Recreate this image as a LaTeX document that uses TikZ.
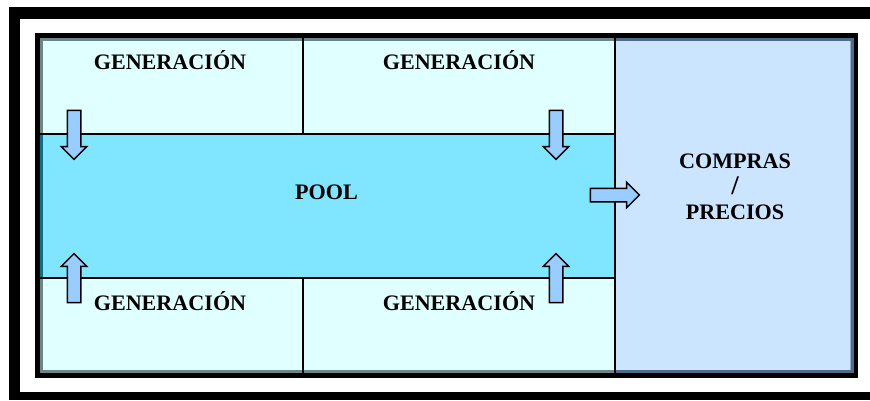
\documentclass[tikz,border=0pt]{standalone}
\usepackage{fontspec}
\setmainfont{Liberation Serif}
\usetikzlibrary{shapes.arrows}
\definecolor{cellc}{HTML}{E0FFFF}
\definecolor{poolc}{HTML}{80E5FF}
\definecolor{buyc}{HTML}{CCE5FF}
\definecolor{arrc}{HTML}{99CCFF}
\definecolor{edgecell}{HTML}{6B8686}
\definecolor{edgepool}{HTML}{0A7088}
\definecolor{edgebuy}{HTML}{4F6B8A}
\definecolor{edgelight}{HTML}{8FABC8}
\tikzset{
  x=1bp,y=-1bp,
  cellbox/.style={anchor=north west,inner sep=0pt,outer sep=0pt,minimum width=#1},
  lbl/.style={font=\fontsize{22.2}{25.5}\selectfont\bfseries,align=center,text=black,inner sep=0pt},
  flow/.style={single arrow,draw=black,line width=1.5bp,fill=arrc,inner sep=0pt,outer sep=0pt,
    single arrow head extend=6bp,single arrow tip angle=90,minimum height=#1},
  divider/.style={draw=black,line width=1.7bp},
}
\newcommand{\shaftgap}{\rule{0pt}{12bp}}
\begin{document}
\begin{tikzpicture}
\useasboundingbox (0,0) rectangle (870,400);
\fill[white] (0,0) rectangle (870,400);
\fill[black] (9,7) rectangle (870,400);
\fill[white] (20,19) rectangle (870,392);
\fill[black] (35,33) rectangle (858,378);
\node[cellbox=263bp,minimum height=96bp,fill=cellc] (g1) at (40,38) {};
\node[cellbox=312bp,minimum height=96bp,fill=cellc] (g2) at (303,38) {};
\node[cellbox=575bp,minimum height=144bp,fill=poolc] (pool) at (40,134) {};
\node[cellbox=263bp,minimum height=95bp,fill=cellc] (g3) at (40,278) {};
\node[cellbox=312bp,minimum height=95bp,fill=cellc] (g4) at (303,278) {};
\node[cellbox=239bp,minimum height=335bp,fill=buyc] (buy) at (615,38) {};
% inner shaded edges
\fill[edgecell] (g1.north west) rectangle ([yshift=-3bp]g2.north east);
\fill[edgecell] (g1.north west) rectangle ([xshift=3bp]g1.south west);
\fill[edgepool] (pool.north west) rectangle ([xshift=3bp]pool.south west);
\fill[edgecell] (g3.north west) rectangle ([xshift=3bp]g3.south west);
\fill[edgecell] ([yshift=3bp]g3.south west) rectangle (g4.south east);
\fill[edgebuy] (buy.north west) rectangle ([yshift=-3bp]buy.north east);
\fill[edgebuy] ([yshift=3bp]buy.south west) rectangle (buy.south east);
\fill[edgebuy] ([xshift=-3bp]buy.north east) rectangle (buy.south east);
\fill[edgelight] ([xshift=-4bp,yshift=-3bp]buy.north east) rectangle ([xshift=-3bp,yshift=3bp]buy.south east);
% dividers
\draw[divider] (g1.north east) -- (g1.south east);
\draw[divider] (g3.north east) -- (g3.south east);
\draw[divider] (buy.north west) -- (buy.south west);
\draw[divider] (pool.north west) -- (pool.north east);
\draw[divider] (pool.south west) -- (pool.south east);
% arrows
\node[flow=49bp,rotate=-90] (a1) at (74,131.5) {\shaftgap};
\node[flow=49bp,rotate=-90] (a2) at (556,131.5) {\shaftgap};
\node[flow=49bp,rotate=90] (a3) at (74,281.5) {\shaftgap};
\node[flow=49bp,rotate=90] (a4) at (556,281.5) {\shaftgap};
\node[flow=49bp] (a5) at (611.5,195) {\shaftgap};
% labels
\node[lbl] (t1) at (170,60) {GENERACIÓN};
\node[lbl] (t2) at (459,60) {GENERACIÓN};
\node[lbl] (t3) at (170,301) {GENERACIÓN};
\node[lbl] (t4) at (459,301) {GENERACIÓN};
\node[lbl] (t5) at (326.5,192.5) {POOL};
\node[lbl] (t6) at (735,187) {COMPRAS\\{\fontsize{27}{25.5}\selectfont /}\\PRECIOS};
\end{tikzpicture}
\end{document}
